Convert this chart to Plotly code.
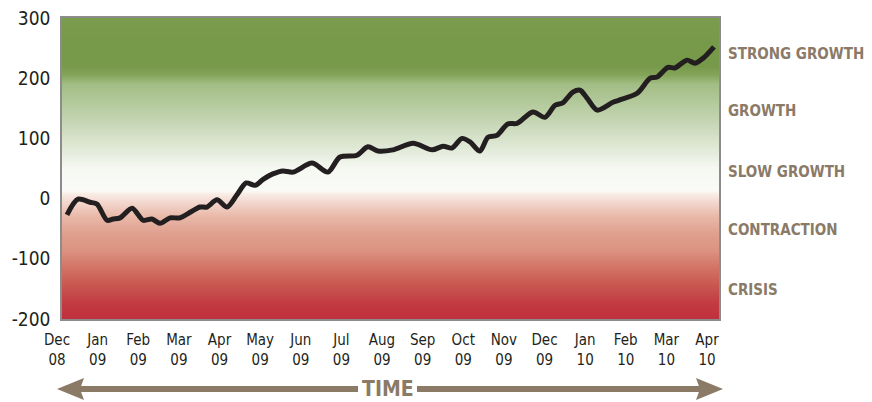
import numpy as np
import plotly.graph_objects as go

# ---- data ----
month_labels = ["Dec<br>08", "Jan<br>09", "Feb<br>09", "Mar<br>09", "Apr<br>09", "May<br>09",
                "Jun<br>09", "Jul<br>09", "Aug<br>09", "Sep<br>09", "Oct<br>09", "Nov<br>09",
                "Dec<br>09", "Jan<br>10", "Feb<br>10", "Mar<br>10", "Apr<br>10"]
month_pos = list(range(len(month_labels)))

t = [0.00, 0.27, 0.57, 0.74, 0.99, 1.14, 1.31, 1.61, 1.88, 2.10, 2.30, 2.55, 2.79, 3.09,
     3.29, 3.46, 3.71, 3.96, 4.20, 4.43, 4.65, 4.85, 5.09, 5.34, 5.59, 6.06, 6.45, 6.75,
     7.17, 7.44, 7.69, 8.06, 8.56, 9.03, 9.30, 9.52, 9.77, 9.97, 10.21, 10.41, 10.63,
     10.90, 11.13, 11.52, 11.82, 12.07, 12.26, 12.51, 12.69, 12.86, 13.11, 13.50, 13.67,
     14.10, 14.42, 14.59, 14.86, 15.03, 15.33, 15.53, 15.73, 16.00]
values = [-27, -1, -6, -9, -36, -34, -32, -16, -36, -34, -41, -32, -32, -21,
          -14, -14, -2, -14, 6, 26, 22, 32, 41, 46, 44, 59, 44, 69,
          72, 86, 79, 81, 92, 81, 87, 84, 100, 94, 79, 102, 105,
          124, 125, 144, 135, 155, 159, 177, 180, 167, 147, 160, 164,
          175, 200, 202, 218, 217, 230, 225, 233, 252]

y_ticks = [-200, -100, 0, 100, 200, 300]
y_ticktext = ["-200", "-100", "0", "100", "200", "300"]
zone_labels = ["STRONG GROWTH", "GROWTH", "SLOW GROWTH", "CONTRACTION", "CRISIS"]
zone_centers = [240, 145, 45, -52, -152]

# background gradient stops (value, colour)
grad_values = [-200, -175, -140, -110, -85, -60, -30, -5, 8, 14, 50, 80, 120, 165, 190, 205, 220, 260, 300]
grad_colors = ["#c0303d", "#c23a41", "#c95a52", "#d4786a", "#dc9381", "#df9e8c", "#e9b8a8",
               "#f3d8cf", "#f9ece6", "#fafbf7", "#f6f8f2", "#e3ebda", "#cad9ba", "#b0c797",
               "#a3bd86", "#85a65a", "#77994a", "#77994a", "#7a9c4c"]

FONT = "DejaVu Sans Condensed, Roboto, sans-serif"

# ---- layout geometry (page pixels; page body has an 8px margin) ----
OFF = 8
W, H = 872 - OFF, 402 - OFF
ML, MR, MT, MB = 40 - OFF, W - (732 - OFF), 18 - OFF, H - (319 - OFF)
PW = W - ML - MR
PH = H - MT - MB


def px_x(p):
    return (p - OFF - ML) / PW


def px_y(p):
    return (H - MB - (p - OFF)) / PH


ymin, ymax = -200, 300
colorscale = [[(v - ymin) / (ymax - ymin), c] for v, c in zip(grad_values, grad_colors)]
grid_y = np.arange(ymin, ymax + 0.01, 1.0)

fig = go.Figure()
fig.add_trace(go.Heatmap(
    x=[-1, 17], y=grid_y, z=[[v, v] for v in grid_y],
    colorscale=colorscale, zmin=ymin, zmax=ymax, showscale=False,
    hoverinfo="skip", xaxis="x", yaxis="y"))
fig.add_trace(go.Scatter(
    x=t, y=values, mode="lines",
    line=dict(color="#231f20", width=5, shape="spline", smoothing=0.8),
    xaxis="x", yaxis="y", hoverinfo="skip", showlegend=False))
# invisible trace to carry the month tick axis
fig.add_trace(go.Scatter(x=month_pos, y=[0] * len(month_pos), mode="markers",
                         marker=dict(opacity=0), xaxis="x2", yaxis="y",
                         hoverinfo="skip", showlegend=False))

main_dom = [px_x(62), px_x(719)]
unit = 647 / 16.0
x0_line = 67
xr = [(62 - x0_line) / unit, (719 - x0_line) / unit]
lab0, lab1 = 57, 707
lunit = (lab1 - lab0) / 16.0
lab_dom = [px_x(48), px_x(716)]
lab_range = [(48 - lab0) / lunit, (716 - lab0) / lunit]

fig.update_layout(
    width=W, height=H,
    margin=dict(l=ML, r=MR, t=MT, b=MB, autoexpand=False),
    paper_bgcolor="white", plot_bgcolor="rgba(0,0,0,0)",
    showlegend=False,
    xaxis=dict(domain=main_dom, range=xr, showgrid=False, zeroline=False,
               showticklabels=False, ticks="", showline=True, mirror=True,
               linecolor="#8c8c8c", linewidth=1.5, automargin=False),
    xaxis2=dict(domain=lab_dom, range=lab_range, anchor="y", automargin=False,
                showgrid=False, zeroline=False, showline=False, ticks="",
                tickmode="array", tickvals=month_pos, ticktext=month_labels,
                tickfont=dict(family=FONT, size=15, color="#231f20"),
                ticklabelstandoff=10, ticklabeloverflow="allow"),
    yaxis=dict(range=[ymin, ymax], anchor="x", showgrid=False, zeroline=False,
               tickmode="array", tickvals=y_ticks, ticktext=y_ticktext, ticks="",
               tickfont=dict(family=FONT, size=19, color="#231f20"), automargin=False,
               showline=True, mirror=True, linecolor="#8c8c8c", linewidth=1.5,
               ticklabelstandoff=6, ticklabeloverflow="allow"),
)

for lab, yc in zip(zone_labels, zone_centers):
    fig.add_annotation(x=px_x(726), xref="paper", y=yc, yref="y", text=lab,
                       showarrow=False, xanchor="left", yanchor="middle",
                       font=dict(family=FONT, size=15, color="#8a7a67", weight="bold"))

# TIME arrow
ay = px_y(389)
brown = "#8a7a66"
half = 3.0 / PH
hh = 11.0 / PH
fig.add_shape(type="rect", xref="paper", yref="paper", x0=px_x(78), x1=px_x(358),
              y0=ay - half, y1=ay + half, fillcolor=brown, line=dict(width=0))
fig.add_shape(type="rect", xref="paper", yref="paper", x0=px_x(417), x1=px_x(702),
              y0=ay - half, y1=ay + half, fillcolor=brown, line=dict(width=0))
fig.add_shape(type="path", xref="paper", yref="paper",
              path=f"M {px_x(57)} {ay} L {px_x(84)} {ay + hh} L {px_x(80)} {ay} L {px_x(84)} {ay - hh} Z",
              fillcolor=brown, line=dict(width=0))
fig.add_shape(type="path", xref="paper", yref="paper",
              path=f"M {px_x(723)} {ay} L {px_x(696)} {ay + hh} L {px_x(700)} {ay} L {px_x(696)} {ay - hh} Z",
              fillcolor=brown, line=dict(width=0))
fig.add_annotation(x=px_x(388), y=ay, xref="paper", yref="paper", text="TIME",
                   showarrow=False, xanchor="center", yanchor="middle", borderpad=0,
                   font=dict(family=FONT, size=21, color=brown, weight="bold"))

fig.write_html("out.html")
